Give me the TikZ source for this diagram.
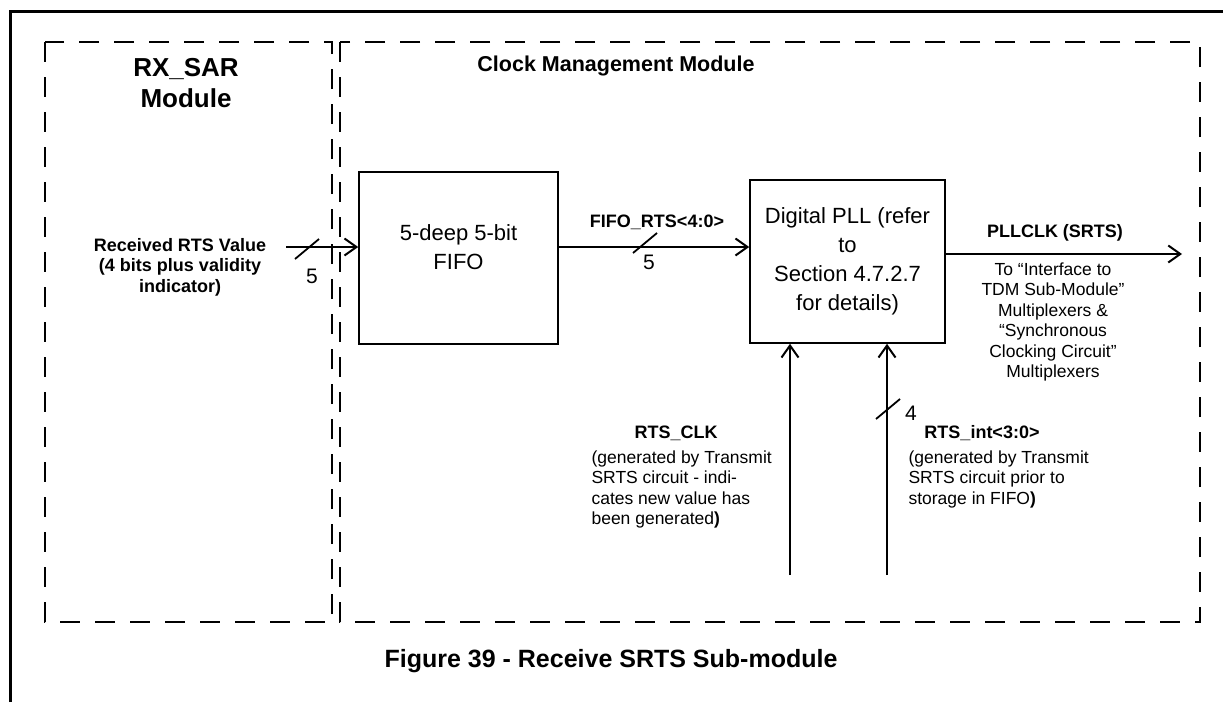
\documentclass[tikz,border=0pt]{standalone}
\usepackage{fontspec}
\setmainfont{Liberation Sans}
\usetikzlibrary{arrows.meta}

\tikzset{
  modbox/.style={draw, line width=2pt, dash pattern=on 20pt off 15pt},
  blkbox/.style={draw, line width=1.6pt, align=center, inner sep=0pt,
    font=\fontsize{22}{29}\selectfont},
  sigline/.style={line width=2pt, -{Straight Barb[length=12pt,width=17pt,line width=2pt]}},
  busmark/.style={line width=1.8pt},
  modname/.style={align=center, font=\fontsize{26}{31}\selectfont\bfseries},
  signame/.style={align=center, font=\fontsize{18}{20.5}\selectfont\bfseries},
  signote/.style={align=center, font=\fontsize{17.5}{20.5}\selectfont},
  buswidth/.style={font=\fontsize{21}{24}\selectfont}
}

\begin{document}
\begin{tikzpicture}[x=1pt, y=-1pt]
    \useasboundingbox (0,0) rectangle (1223,702);
    % page frame
    \draw[line width=3pt] (10,702) -- (10,11) -- (1223,11);

    % modules
    \draw[modbox] (45,42) rectangle (332,622);
    \draw[modbox] (340,42) rectangle (1200,622);
    \node[modname] (rxsar) at (186,83) {RX\_SAR\\Module};
    \node[modname, font=\fontsize{21.5}{31}\selectfont\bfseries] (clkmgmt) at (616,66) {Clock Management Module};

    % blocks
    \node[blkbox, minimum width=199pt, minimum height=172pt, text depth=22pt] (fifo) at (458.5,258) {5-deep 5-bit\\FIFO};
    \node[blkbox, minimum width=195pt, minimum height=163pt] (pll) at (847.5,261.5) {Digital PLL (refer\\to\\Section 4.7.2.7\\for details)};

    % free ends
    \coordinate (rxin) at (286,247);
    \coordinate (pllout) at (1182,254);
    \coordinate (clkin) at (790,575);
    \coordinate (intin) at (887,575);

    % signals
    \draw[sigline] (rxin) -- (rxin -| fifo.west);
    \draw[sigline] ([yshift=11pt]fifo.east) -- ([yshift=11pt]fifo.east -| pll.west);
    \draw[sigline] (pllout -| pll.east) -- (pllout);
    \draw[sigline] (clkin) -- (clkin |- pll.south);
    \draw[sigline] (intin) -- (intin |- pll.south);

    % bus widths
    \draw[busmark] (307,249) +(-12,10) -- +(12,-10);
    \node[buswidth] (rxw) at (312,276) {5};
    \draw[busmark] (645,243) +(-12,10) -- +(12,-10);
    \node[buswidth] (fifow) at (649,262) {5};
    \draw[busmark] (888,409) +(-12,10) -- +(12,-10);
    \node[buswidth] (intw) at (911,413) {4};

    % signal labels
    \node[signame] (rxname) at (180,267) {Received RTS Value\\(4 bits plus validity\\indicator)};
    \node[signame] (fifoname) at (657,222) {FIFO\_RTS<4:0>};
    \node[signame] (pllname) at (1055,233) {PLLCLK (SRTS)};
    \node[signote] (pllnote) at (1053,322) {To “Interface to\\TDM Sub-Module”\\Multiplexers \&\\“Synchronous\\Clocking Circuit”\\Multiplexers};
    \node[signame] (clkname) at (676,433) {RTS\_CLK};
    \node[signote, align=left, anchor=north west] (clknote) at (588,447) {(generated by Transmit\\SRTS circuit - indi-\\cates new value has\\been generated\textbf{)}};
    \node[signame] (intname) at (982,433) {RTS\_int<3:0>};
    \node[signote, align=left, anchor=north west] (intnote) at (905,447) {(generated by Transmit\\SRTS circuit prior to\\storage in FIFO\textbf{)}};

    % caption
    \node[font=\fontsize{25}{28}\selectfont\bfseries] (caption) at (611,661) {Figure 39 - Receive SRTS Sub-module};
\end{tikzpicture}
\end{document}
